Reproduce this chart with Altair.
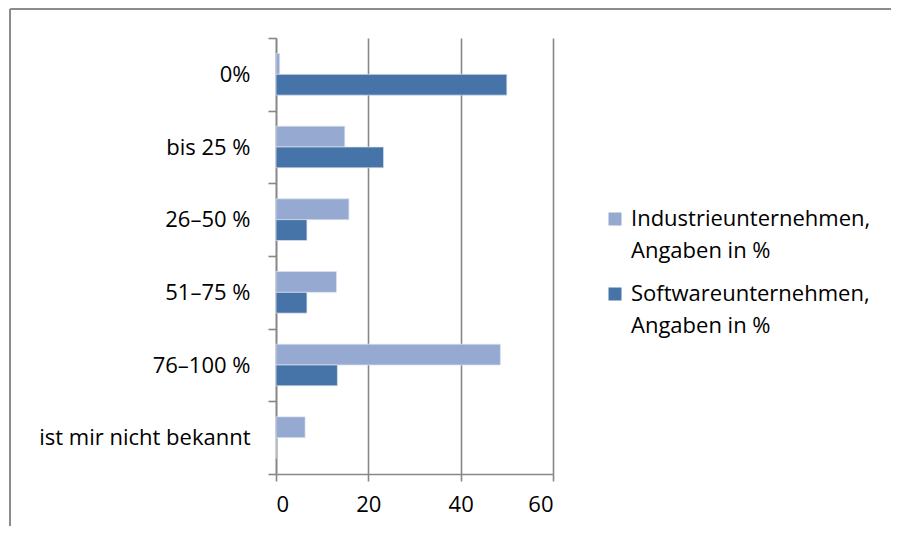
import altair as alt
import pandas as pd

categories = ["0%", "bis 25 %", "26–50 %", "51–75 %", "76–100 %", "ist mir nicht bekannt"]
series = ["Industrieunternehmen, Angaben in %", "Softwareunternehmen, Angaben in %"]
industrie = [0.8, 14.9, 15.8, 13.1, 48.6, 6.3]
software = [50.0, 23.3, 6.7, 6.7, 13.3, 0.0]
colors = ["#95A9D1", "#4673A8"]

rows = []
for c, a, b in zip(categories, industrie, software):
    rows.append({"Kategorie": c, "Serie": series[0], "Wert": a})
    rows.append({"Kategorie": c, "Serie": series[1], "Wert": b})
df = pd.DataFrame(rows)

FONT = "Open Sans"
DY = -10

bars = alt.Chart(df).mark_bar(stroke="#DCE3F0", strokeWidth=1, strokeOpacity=0.7).encode(
    x=alt.X("Wert:Q", scale=alt.Scale(domain=[0, 60], nice=False),
            axis=alt.Axis(values=[0, 20, 40, 60], title=None, grid=True, gridColor="#878787",
                          gridWidth=1.6, domainColor="#878787", domainWidth=1.6,
                          tickColor="#878787", tickWidth=1.6, tickSize=7, labelPadding=13 - DY,
                          labelFontSize=22, labelFont=FONT, labelColor="#000000")),
    y=alt.Y("Kategorie:N", sort=categories,
            scale=alt.Scale(paddingInner=0, paddingOuter=0),
            axis=alt.Axis(title=None, tickBand="extent", domainColor="#878787", domainWidth=1.6,
                          tickColor="#878787", tickWidth=1.6, tickSize=8, labelPadding=18,
                          labelOffset=-DY,
                          labelFontSize=22, labelFont=FONT, labelColor="#000000", labelLimit=400)),
    yOffset=alt.YOffset("Serie:N", sort=series, scale=alt.Scale(paddingInner=0, paddingOuter=0.745)),
    color=alt.Color("Serie:N", sort=series, scale=alt.Scale(domain=series, range=colors),
                    legend=alt.Legend(title=None, orient="none", legendX=328, legendY=170,
                                      symbolType="square", symbolSize=169, symbolStrokeWidth=0,
                                      labelFontSize=22, labelFont=FONT, labelColor="#000000",
                                      labelLimit=400, rowPadding=21, labelOffset=5,
                                      labelBaseline="top",
                                      labelExpr="[slice(datum.label, 0, indexof(datum.label, ',') + 1), slice(datum.label, indexof(datum.label, ',') + 2)]")),
)

frame_left = alt.Chart(df).mark_rule(color="#8C8C8C", strokeWidth=1.5).encode(
    x=alt.value(-266), y=alt.value(-29), y2=alt.value(500))
frame_top = alt.Chart(df).mark_rule(color="#8C8C8C", strokeWidth=1.5).encode(
    x=alt.value(-266), x2=alt.value(640), y=alt.value(-29))

chart = alt.layer(frame_left, frame_top, bars).properties(
    width=277, height=436,
    autosize=alt.AutoSizeParams(type="none"),
    padding={"left": 268, "top": 30, "right": 338, "bottom": 52},
).configure(
    font=FONT,
    style={"guide-label": {"lineHeight": 32, "dy": DY}},
).configure_view(stroke=None)

chart.save("out.html", embed_options={"renderer": "svg", "actions": False})
